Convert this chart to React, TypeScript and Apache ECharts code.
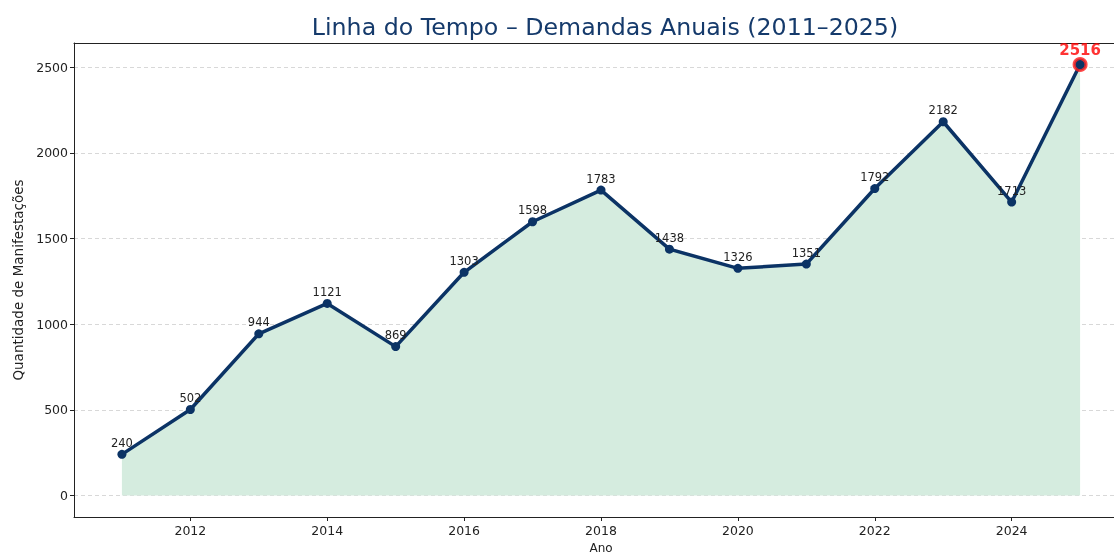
import React, { useEffect, useRef } from "react";
import * as echarts from "echarts";

const years = [2011, 2012, 2013, 2014, 2015, 2016, 2017, 2018, 2019, 2020, 2021, 2022, 2023, 2024, 2025];
const values = [240, 502, 944, 1121, 869, 1303, 1598, 1783, 1438, 1326, 1351, 1792, 2182, 1713, 2516];
const xTicks = [2012, 2014, 2016, 2018, 2020, 2022, 2024];
const yTicks = [0, 500, 1000, 1500, 2000, 2500];
const title = "Linha do Tempo – Demandas Anuais (2011–2025)";

const FONT = "DejaVu Sans";
const NAVY = "#0b3365";

export default function App() {
  const ref = useRef<HTMLDivElement>(null);
  useEffect(() => {
    if (!ref.current) return;
    const chart = echarts.init(ref.current, undefined, { renderer: "svg" });
    const n = years.length;
    const lastIdx = n - 1;
    const pts = years.map((y, i) => [y, values[i]]);
    const maxV = Math.max(...values);
    const span = years[lastIdx] - years[0];
    chart.setOption({
      animation: false,
      textStyle: { fontFamily: FONT },
      title: {
        text: title,
        left: 600,
        textAlign: "center",
        top: 10,
        textStyle: { fontFamily: FONT, fontSize: 23.7, fontWeight: "normal", color: "#153a6b" },
      },
      grid: { left: 74, right: -14, top: 43, bottom: 37, containLabel: false, outerBoundsMode: "none" },
      xAxis: [
        {
          type: "value",
          min: years[0] - span * 0.05,
          max: years[lastIdx] + span * 0.05,
          name: "Ano",
          nameLocation: "middle",
          nameGap: 24,
          nameTextStyle: { fontFamily: FONT, fontSize: 12, color: "#222" },
          axisLine: { show: true, onZero: false, lineStyle: { color: "#222", width: 1 } },
          axisTick: { show: true, length: 4, lineStyle: { color: "#222" }, customValues: xTicks },
          axisLabel: { fontFamily: FONT, fontSize: 12.5, color: "#222", margin: 7, customValues: xTicks, formatter: (v: number) => String(v) },
          splitLine: { show: false },
        },
        {
          type: "value",
          position: "top",
          min: years[0] - span * 0.05,
          max: years[lastIdx] + span * 0.05,
          axisLine: { show: true, onZero: false, lineStyle: { color: "#222", width: 1 } },
          axisTick: { show: false },
          axisLabel: { show: false },
          splitLine: { show: false },
        },
      ],
      yAxis: {
        type: "value",
        min: -maxV * 0.05,
        max: maxV * 1.05,
        name: "Quantidade de Manifestações",
        nameLocation: "middle",
        nameGap: 49,
        nameTextStyle: { fontFamily: FONT, fontSize: 13.5, color: "#222" },
        axisLine: { show: true, onZero: false, lineStyle: { color: "#222", width: 1 } },
        axisTick: { show: true, length: 4, lineStyle: { color: "#222" }, customValues: yTicks },
        axisLabel: { fontFamily: FONT, fontSize: 12.5, color: "#222", margin: 6, customValues: yTicks, formatter: (v: number) => String(v) },
        splitLine: { show: true, lineStyle: { color: "#d8d8d8", type: [4, 3], width: 1 } },
      },
      series: [
        {
          type: "line",
          data: pts,
          lineStyle: { color: NAVY, width: 3.5 },
          itemStyle: { color: NAVY },
          symbol: "circle",
          symbolSize: 9,
          showSymbol: true,
          areaStyle: { color: "#d5ecdf", opacity: 1, origin: 0 },
          label: {
            show: true,
            position: "top",
            distance: 1,
            fontFamily: FONT,
            fontSize: 11.5,
            color: "#222",
            formatter: (p: any) => (p.dataIndex === lastIdx ? "" : String(p.value[1])),
          },
          z: 3,
        },
        {
          type: "scatter",
          data: [pts[lastIdx]],
          symbol: "circle",
          symbolSize: 12,
          itemStyle: { color: NAVY, borderColor: "#ff1a1a", borderWidth: 3 },
          label: {
            show: true,
            position: "top",
            distance: 0,
            fontFamily: FONT,
            fontSize: 15,
            fontWeight: "bold",
            color: "#ff0000",
            formatter: (p: any) => String(p.value[1]),
          },
          z: 5,
        },
      ],
    });
    return () => chart.dispose();
  }, []);
  return <div ref={ref} style={{ position: "fixed", left: 0, top: 0, width: 1114, height: 554 }} />;
}
